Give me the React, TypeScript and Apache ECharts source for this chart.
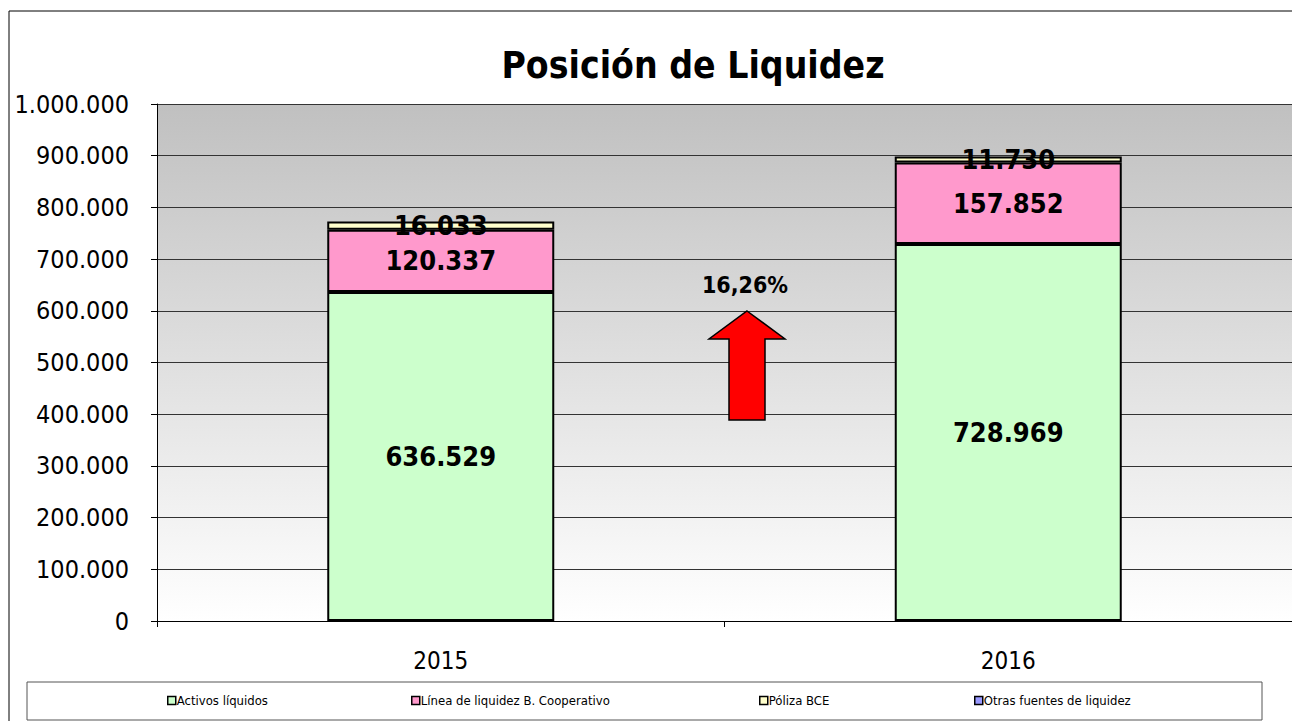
import React, { useEffect, useRef } from "react";
import * as echarts from "echarts";

const categories = ["2015", "2016"];
const activosLiquidos = [636529, 728969];
const lineaLiquidez = [120337, 157852];
const polizaBCE = [16033, 11730];
const otrasFuentes = [0, 0];
const seriesNames = ["Activos líquidos", "Línea de liquidez B. Cooperativo", "Póliza BCE", "Otras fuentes de liquidez"];
const seriesColors = ["#CCFFCC", "#FF99CC", "#FFFFCC", "#9999FF"];
const yTicks = { min: 0, max: 1000000, interval: 100000 };

const FONT = "'DejaVu Sans Condensed', 'DejaVu Sans', sans-serif";

const fmt = (v: number) => String(Math.round(v)).replace(/\B(?=(\d{3})+(?!\d))/g, ".");

export default function App() {
  const ref = useRef<HTMLDivElement>(null);
  useEffect(() => {
    if (!ref.current) return;
    const chart = echarts.init(ref.current, null, { renderer: "svg" });
    const totals = categories.map((_, i) => activosLiquidos[i] + lineaLiquidez[i] + polizaBCE[i] + otrasFuentes[i]);
    const growth = ((totals[1] / totals[0] - 1) * 100).toFixed(2).replace(".", ",") + "%";
    const allData = [activosLiquidos, lineaLiquidez, polizaBCE, otrasFuentes];
    const legendLefts = [162, 406, 754, 969];
    chart.setOption({
      animation: false,
      textStyle: { fontFamily: FONT },
      legend: seriesNames.map((n, i) => ({
        data: [n],
        left: legendLefts[i],
        top: 689,
        itemWidth: 8,
        itemHeight: 8,
        itemGap: 0,
        icon: "rect",
        itemStyle: { borderColor: "#000", borderWidth: 1.5 },
        textStyle: { fontFamily: FONT, fontSize: 13, color: "#000", padding: [0, 0, 0, -4] },
      })),
      grid: {
        left: 157,
        top: 104,
        right: 0,
        bottom: 100,
        show: true,
        borderWidth: 0,
        backgroundColor: new echarts.graphic.LinearGradient(0, 0, 0, 1, [
          { offset: 0, color: "#C0C0C0" },
          { offset: 1, color: "#FFFFFF" },
        ]),
      },
      xAxis: {
        type: "category",
        data: categories,
        axisLine: { lineStyle: { color: "#000", width: 1 } },
        axisTick: { show: true, length: 6, lineStyle: { color: "#000" } },
        axisLabel: { fontFamily: FONT, fontSize: 24, color: "#000", margin: 28 },
      },
      yAxis: {
        type: "value",
        min: yTicks.min,
        max: yTicks.max,
        interval: yTicks.interval,
        axisLine: { show: true, lineStyle: { color: "#000", width: 1 } },
        axisTick: { show: true, length: 6, lineStyle: { color: "#000" } },
        splitLine: { show: true, lineStyle: { color: "#333", width: 1 } },
        axisLabel: { fontFamily: FONT, fontSize: 25, color: "#000", margin: 28, formatter: (v: number) => fmt(v) },
      },
      series: allData.map((d, i) => ({
        name: seriesNames[i],
        type: "bar",
        stack: "total",
        data: d,
        barWidth: "40%",
        itemStyle: { color: seriesColors[i], borderColor: "#000", borderWidth: i === 3 ? 0 : 2 },
        label: {
          show: i !== 3,
          position: "inside",
          formatter: (p: any) => fmt(p.value),
          fontFamily: FONT,
          fontSize: 27,
          fontWeight: "bold",
          color: "#000",
        },
      })),
      graphic: [
        {
          type: "rect",
          shape: { x: 9, y: 11, width: 1300, height: 730 },
          style: { fill: "none", stroke: "#000", lineWidth: 1 },
          silent: true,
          z: -1,
        },
        {
          type: "text",
          x: 693,
          y: 65,
          style: {
            text: "Posición de Liquidez",
            fontFamily: FONT,
            fontSize: 37,
            fontWeight: "bold",
            fill: "#000",
            align: "center",
            verticalAlign: "middle",
          },
        },
        {
          type: "rect",
          shape: { x: 27, y: 682, width: 1235, height: 38 },
          style: { fill: "none", stroke: "#555", lineWidth: 1 },
          silent: true,
        },
        {
          type: "polygon",
          shape: {
            points: [
              [747, 311],
              [785, 339],
              [765, 339],
              [765, 420],
              [729, 420],
              [729, 339],
              [709, 339],
            ],
          },
          style: { fill: "#FF0000", stroke: "#000", lineWidth: 1.5 },
          z: 10,
        },
        {
          type: "text",
          x: 745,
          y: 285,
          style: {
            text: growth,
            fontFamily: FONT,
            fontSize: 23,
            fontWeight: "bold",
            fill: "#000",
            align: "center",
            verticalAlign: "middle",
          },
          z: 10,
        },
      ],
    });
    return () => chart.dispose();
  }, []);
  return <div ref={ref} style={{ position: "absolute", left: 0, top: 0, width: 1292, height: 721 }} />;
}
